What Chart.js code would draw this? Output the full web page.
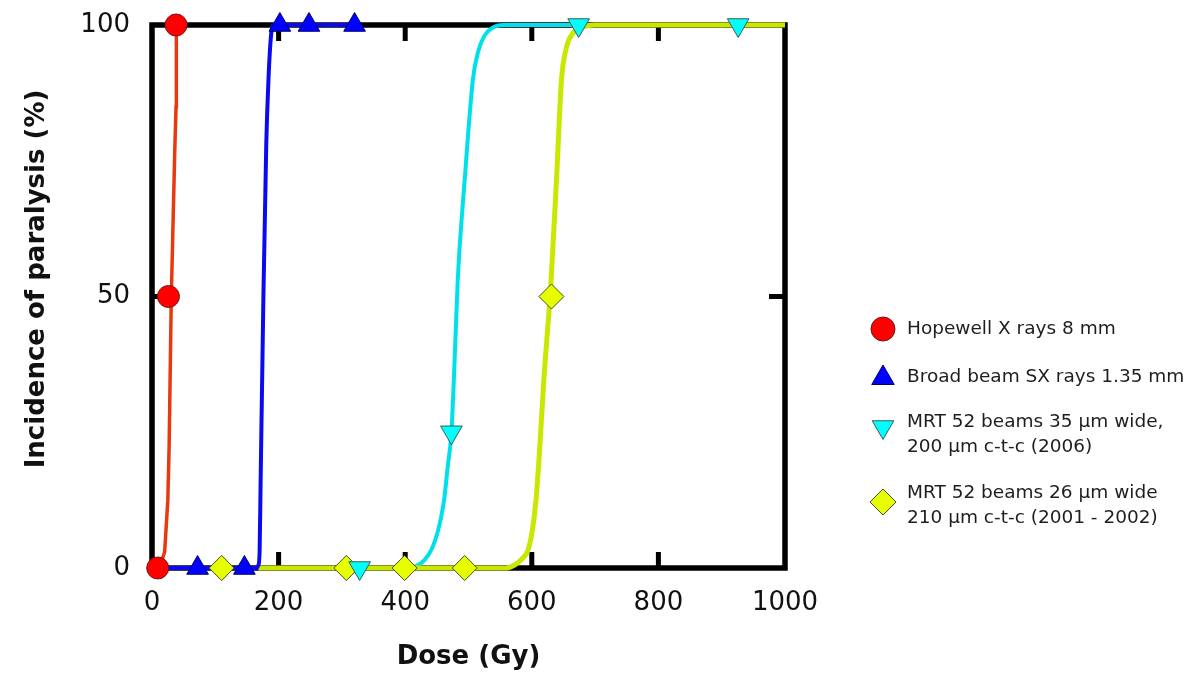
<!DOCTYPE html>
<html>
<head>
<meta charset="utf-8">
<script src="https://cdn.jsdelivr.net/npm/chart.js@4.4.1/dist/chart.umd.min.js"></script>
<style>
  html, body { margin: 0; background: #fff; }
</style>
</head>
<body>
<canvas id="chart" width="1200" height="675"></canvas>
<script>
// measured points (dose in Gy, incidence in %)
const hopewellDose = [9, 26, 38];
const hopewellPct = [0, 50, 100];
const broadDose = [72, 146, 202, 248, 320];
const broadPct = [0, 0, 100, 100, 100];
const mrt35Dose = [328, 473, 674, 926];
const mrt35Pct = [0, 25, 100, 100];
const mrt26Dose = [110, 307, 399, 494, 631];
const mrt26Pct = [0, 0, 0, 0, 50];

// fitted curves
const hopewellFitDose = [12, 20, 25, 27, 30.5, 36, 38, 38.5];
const hopewellFitPct = [0, 3, 12.5, 22, 50, 77, 85, 100];
const broadFitDose = [0, 163, 168, 170, 171.5, 176, 180.5, 184, 188, 192, 320];
const broadFitPct = [0, 0, 0.5, 3, 15, 50, 78, 90, 98, 100, 100];
const mrt35FitDose = [328, 405, 418, 430, 442, 451, 457, 462, 467, 473, 478, 483, 494, 507, 515, 525, 538, 555, 926];
const mrt35FitPct = [0, 0, 0.4, 1.4, 3.5, 6.5, 9.5, 13, 18.5, 25, 38, 53, 71.5, 90, 95, 98, 99.5, 100, 100];
const mrt26FitDose = [168, 560, 572, 583, 594, 601, 607, 613, 619, 630, 639, 647, 655, 665, 680, 700, 1000];
const mrt26FitPct = [0, 0, 0.5, 1.5, 3.3, 7, 13, 23, 34.6, 52, 71.5, 90, 96, 98.5, 99.6, 100, 100];

const xTicks = [0, 200, 400, 600, 800, 1000];
const yTicks = [0, 50, 100];

const seriesLabels = [
  ['Hopewell X rays 8 mm'],
  ['Broad beam SX rays 1.35 mm'],
  ['MRT 52 beams 35 \u00b5m wide,', '200 \u00b5m c-t-c (2006)'],
  ['MRT 52 beams 26 \u00b5m wide', '210 \u00b5m c-t-c (2001 - 2002)']
];

const pts = (xs, ys) => xs.map((x, i) => ({ x, y: ys[i] }));

function markerSet(label, xs, ys, style, rot, r, fill, stroke) {
  return {
    label, data: pts(xs, ys), showLine: false, clip: false,
    pointStyle: style, rotation: rot, pointRadius: r,
    pointBackgroundColor: fill, pointBorderColor: stroke, pointBorderWidth: 1
  };
}
function curveSet(xs, ys, color, w, mono) {
  return {
    data: pts(xs, ys), showLine: true, clip: false, pointRadius: 0,
    borderColor: color, borderWidth: w, fill: false,
    cubicInterpolationMode: mono ? 'monotone' : 'default', tension: 0
  };
}

// first dataset is drawn on top
const datasets = [
  markerSet(seriesLabels[2], mrt35Dose, mrt35Pct, 'triangle', 180, 12.5, '#00ffff', '#3c5a5a'),
  markerSet(seriesLabels[3], mrt26Dose, mrt26Pct, 'rectRot', 0, 12.5, '#e6ff00', '#4a4a22'),
  markerSet(seriesLabels[1], broadDose, broadPct, 'triangle', 0, 12.5, '#0000ff', '#00006e'),
  markerSet(seriesLabels[0], hopewellDose, hopewellPct, 'circle', 0, 11, '#ff0000', '#6e1a1a'),
  curveSet(hopewellFitDose, hopewellFitPct, '#e8380d', 3.5, false),
  curveSet(broadFitDose, broadFitPct, '#0a0af0', 4, true),
  curveSet(mrt26FitDose, mrt26FitPct, '#c9e800', 5, true),
  curveSet(mrt35FitDose, mrt35FitPct, '#00e0ea', 4, true)
];

function drawMarker(ctx, style, x, y, r, fill, stroke) {
  ctx.beginPath();
  if (style === 'circle') {
    ctx.arc(x, y, r, 0, Math.PI * 2);
  } else if (style === 'up') {
    ctx.moveTo(x, y - r);
    ctx.lineTo(x + r * 0.866, y + r / 2);
    ctx.lineTo(x - r * 0.866, y + r / 2);
    ctx.closePath();
  } else if (style === 'down') {
    ctx.moveTo(x, y + r);
    ctx.lineTo(x + r * 0.866, y - r / 2);
    ctx.lineTo(x - r * 0.866, y - r / 2);
    ctx.closePath();
  } else {
    ctx.moveTo(x, y - r);
    ctx.lineTo(x + r, y);
    ctx.lineTo(x, y + r);
    ctx.lineTo(x - r, y);
    ctx.closePath();
  }
  ctx.fillStyle = fill;
  ctx.fill();
  ctx.lineWidth = 1;
  ctx.strokeStyle = stroke;
  ctx.stroke();
}

// box frame with inward tick marks
const framePlugin = {
  id: 'frame',
  beforeDatasetsDraw(chart) {
    const { ctx, chartArea: a, scales: { x, y } } = chart;
    ctx.save();
    ctx.strokeStyle = '#000';
    ctx.lineWidth = 5.5;
    ctx.strokeRect(a.left, a.top, a.right - a.left, a.bottom - a.top);
    ctx.lineWidth = 5;
    ctx.beginPath();
    xTicks.slice(1, -1).forEach(v => {
      const px = x.getPixelForValue(v);
      ctx.moveTo(px, a.bottom); ctx.lineTo(px, a.bottom - 16);
      ctx.moveTo(px, a.top); ctx.lineTo(px, a.top + 16);
    });
    yTicks.slice(1, -1).forEach(v => {
      const py = y.getPixelForValue(v);
      ctx.moveTo(a.left, py); ctx.lineTo(a.left + 16, py);
      ctx.moveTo(a.right, py); ctx.lineTo(a.right - 16, py);
    });
    ctx.stroke();
    ctx.restore();
  }
};

// y title and side legend
const sidePlugin = {
  id: 'side',
  afterDraw(chart) {
    const ctx = chart.ctx;
    ctx.save();
    ctx.fillStyle = '#111';
    ctx.font = 'bold 26px "DejaVu Sans"';
    ctx.textAlign = 'center';
    ctx.textBaseline = 'middle';
    ctx.translate(37, 279);
    ctx.rotate(-Math.PI / 2);
    ctx.fillText('Incidence of paralysis (%)', 0, 0);
    ctx.restore();

    const items = [
      { style: 'circle', r: 12, fill: '#ff0000', stroke: '#6e1a1a', my: 329, ty: [329] },
      { style: 'up', r: 13, fill: '#0000ff', stroke: '#00006e', my: 378, ty: [377] },
      { style: 'down', r: 12.5, fill: '#00ffff', stroke: '#3c5a5a', my: 427, ty: [422, 447] },
      { style: 'diamond', r: 13, fill: '#e6ff00', stroke: '#4a4a22', my: 502, ty: [493, 518] }
    ];
    ctx.save();
    ctx.font = '18.5px "DejaVu Sans"';
    ctx.textAlign = 'left';
    ctx.textBaseline = 'middle';
    items.forEach((it, i) => {
      drawMarker(ctx, it.style, 883, it.my, it.r, it.fill, it.stroke);
      ctx.fillStyle = '#1e1e1e';
      seriesLabels[i].forEach((line, j) => ctx.fillText(line, 907, it.ty[j]));
    });
    ctx.restore();
  }
};

new Chart(document.getElementById('chart'), {
  type: 'scatter',
  data: { datasets },
  options: {
    responsive: false,
    animation: false,
    events: [],
    devicePixelRatio: 1,
    layout: { padding: { top: 25, right: 415, left: 0, bottom: 0 } },
    plugins: { legend: { display: false }, tooltip: { enabled: false } },
    scales: {
      x: {
        type: 'linear', min: 0, max: 1000,
        afterFit: s => { s.height = 107; s.paddingLeft = 0; s.paddingRight = 0; },
        afterBuildTicks: s => { s.ticks = xTicks.map(v => ({ value: v })); },
        grid: { display: false, drawTicks: false },
        border: { display: false },
        ticks: {
          color: '#111', padding: 20, font: { family: 'DejaVu Sans', size: 26 },
          callback: v => String(v)
        },
        title: {
          display: true, text: 'Dose (Gy)', color: '#111',
          font: { family: 'DejaVu Sans', size: 26, weight: 'bold' },
          padding: { top: 0, bottom: 2 }
        }
      },
      y: {
        type: 'linear', min: 0, max: 100,
        afterFit: s => { s.width = 152; s.paddingTop = 0; s.paddingBottom = 0; },
        afterBuildTicks: s => { s.ticks = yTicks.map(v => ({ value: v })); },
        grid: { display: false, drawTicks: false },
        border: { display: false },
        ticks: {
          color: '#111', padding: 22, font: { family: 'DejaVu Sans', size: 26 },
          callback: v => String(v)
        }
      }
    }
  },
  plugins: [framePlugin, sidePlugin]
});
</script>
</body>
</html>
